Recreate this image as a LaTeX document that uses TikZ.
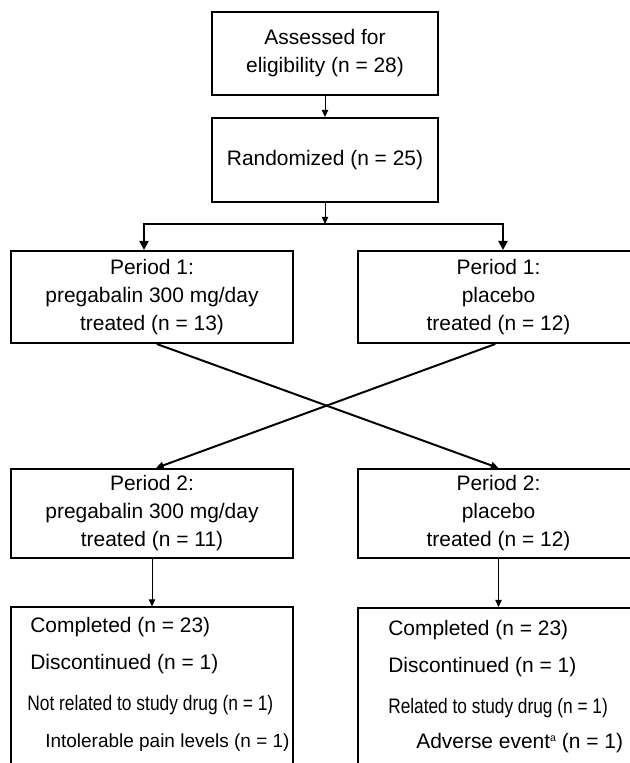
\documentclass[tikz,border=0pt]{standalone}
\usepackage{fontspec}
\setmainfont{Liberation Sans}
\usepackage{graphicx}
\usepackage{tikz}
\usetikzlibrary{arrows.meta,positioning}

\begin{document}
\begin{tikzpicture}[x=0.025cm, y=-0.025cm,
  box/.style={draw, line width=1.4pt, align=center, inner sep=0pt, font=\fontsize{14.9}{19.9}\selectfont},
  topbox/.style={box, minimum width=5.65cm, minimum height=2.1cm},
  armbox/.style={box, minimum width=7.025cm, minimum height=2.3cm},
  feed/.style={line width=0.7pt, -{Triangle[length=5pt,width=4.5pt]}},
  fork/.style={line width=1.4pt, line join=miter, {Triangle[length=6.5pt,width=6.5pt]}-{Triangle[length=6.5pt,width=6.5pt]}},
  crossarrow/.style={line width=1.4pt, -{Triangle[length=5.5pt,width=5pt]}},
  txt/.style={anchor=west, inner sep=0pt, font=\fontsize{14.9}{19.9}\selectfont}]
\useasboundingbox (0,0) rectangle (630,763);

\node[topbox, minimum height=2.075cm] (assess) at (325,53.5) {Assessed for\\eligibility (n = 28)};
\node[topbox] (random) at (325,160) {Randomized (n = 25)};

\node[armbox] (p1preg) at (152,297) {Period 1:\\pregabalin 300 mg/day\\treated (n = 13)};
\node[armbox] (p1plac) at (498.5,297) {Period 1:\\placebo\\treated (n = 12)};
\node[armbox, minimum height=2.225cm] (p2preg) at (152,513.5) {Period 2:\\pregabalin 300 mg/day\\treated (n = 11)};
\node[armbox, minimum height=2.225cm] (p2plac) at (498.5,513.5) {Period 2:\\placebo\\treated (n = 12)};
\node[armbox, minimum height=5cm] (endpreg) at (152,707.5) {};
\node[armbox, minimum height=5cm] (endplac) at (498.5,708) {};

\coordinate (split) at (325,224);
\coordinate (forkpreg) at (144,224);
\coordinate (forkplac) at (503,224);

\draw[feed] (assess) -- (random);
\draw[feed] (random) -- (split);
\draw[fork] (forkpreg |- p1preg.north) -- (forkpreg) -- (forkplac) -- (forkplac |- p1plac.north);
\draw[crossarrow] ([xshift=0.12cm]p1preg.south) -- (p2plac.north);
\draw[crossarrow] ([xshift=-0.08cm]p1plac.south) -- ([xshift=0.1cm]p2preg.north);
\draw[feed] (p2preg) -- (endpreg);
\draw[feed] (p2plac) -- (endplac);

\node[txt] (complpreg) at (30,627) {Completed (n = 23)};
\node[txt] (discpreg) at (30,664) {Discontinued (n = 1)};
\node[txt] (notrel) at (27,705) {\scalebox{0.83}[1]{Not related to study drug (n = 1)}};
\node[txt, font=\fontsize{13.5}{16}\selectfont] (pain) at (45,743) {Intolerable pain levels (n = 1)};
\node[txt] (complplac) at (388,630) {Completed (n = 23)};
\node[txt] (discplac) at (388,667) {Discontinued (n = 1)};
\node[txt] (rel) at (388,708) {\scalebox{0.825}[1]{Related to study drug (n = 1)}};
\node[txt] (adverse) at (416,743) {Adverse event\raisebox{0.6ex}{\fontsize{7.5}{8}\selectfont a} (n = 1)};
\end{tikzpicture}
\end{document}
